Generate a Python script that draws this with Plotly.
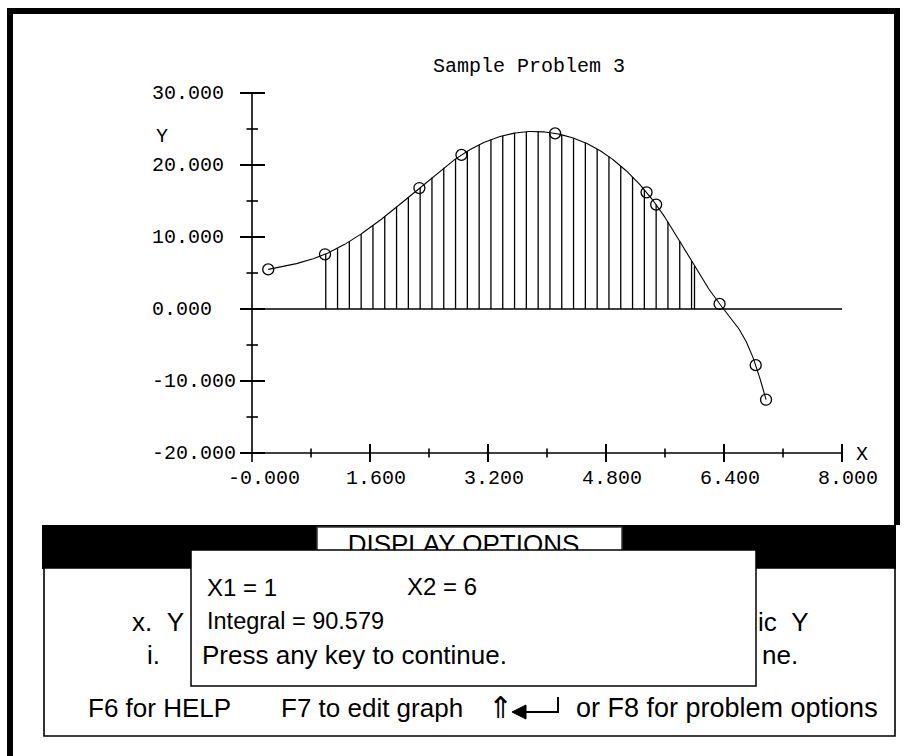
import numpy as np
import plotly.graph_objects as go

# ---------------- data ----------------
title = "Sample Problem 3"
x_pts = [0.22, 0.99, 2.27, 2.84, 4.11, 5.35, 5.48, 6.34, 6.83, 6.97]
y_pts = [5.5, 7.6, 16.8, 21.4, 24.4, 16.2, 14.5, 0.7, -7.8, -12.6]
X1, X2 = 1, 6
integral_value = 90.579
hatch_step = 0.16
x_ticks = [0.0, 1.6, 3.2, 4.8, 6.4, 8.0]
x_tick_labels = ["-0.000", "1.600", "3.200", "4.800", "6.400", "8.000"]
x_minor = [0.8, 2.4, 4.0, 5.6, 7.2]
y_ticks = [30, 20, 10, 0, -10, -20]
y_tick_labels = ["30.000", "20.000", "10.000", "0.000", "-10.000", "-20.000"]
y_minor = [25, 15, 5, -5, -15]

# ---------------- geometry (pixel mapping) ----------------
W, H = 905, 756
OX, OY = 252.0, 309.0      # pixel position of data (0,0)
SX, SY = 73.75, 7.2        # pixels per unit
xr = [-OX / SX, (W - OX) / SX]
yr = [(OY - H) / SY, OY / SY]

def dx(p):  # pixel length -> x units
    return p / SX

def dy(p):
    return p / SY

def PX(px):  # pixel -> paper
    return px / W

def PY(py):
    return 1 - py / H

def DX(px):  # pixel -> data x
    return (px - OX) / SX

def DY(py):
    return (OY - py) / SY


def natural_spline(xs, ys, xq):
    xs = np.asarray(xs, float)
    ys = np.asarray(ys, float)
    n = len(xs)
    h = np.diff(xs)
    A = np.zeros((n, n))
    b = np.zeros(n)
    A[0, 0] = 1
    A[-1, -1] = 1
    for i in range(1, n - 1):
        A[i, i - 1] = h[i - 1]
        A[i, i] = 2 * (h[i - 1] + h[i])
        A[i, i + 1] = h[i]
        b[i] = 6 * ((ys[i + 1] - ys[i]) / h[i] - (ys[i] - ys[i - 1]) / h[i - 1])
    M = np.linalg.solve(A, b)
    xq = np.asarray(xq, float)
    idx = np.clip(np.searchsorted(xs, xq) - 1, 0, n - 2)
    x0 = xs[idx]
    x1 = xs[idx + 1]
    hh = x1 - x0
    t0 = x1 - xq
    t1 = xq - x0
    return (M[idx] * t0 ** 3 / (6 * hh) + M[idx + 1] * t1 ** 3 / (6 * hh)
            + (ys[idx] / hh - M[idx] * hh / 6) * t0
            + (ys[idx + 1] / hh - M[idx + 1] * hh / 6) * t1)


fig = go.Figure()

# ---- axes lines & ticks ----
ymin, ymax = min(y_ticks), max(y_ticks)
xmax = max(x_ticks)
ax_x, ax_y = [], []
ax_x += [0, 0, None]
ax_y += [ymax, ymin - dy(9), None]
for yv in [ymin, 0]:
    ax_x += [-dx(12), xmax, None]
    ax_y += [yv, yv, None]
fig.add_trace(go.Scatter(x=ax_x, y=ax_y, mode="lines",
                         line=dict(color="black", width=1.6), hoverinfo="skip"))

maj_x, maj_y = [], []
for v in y_ticks:
    maj_x += [-dx(12), dx(13), None]
    maj_y += [v, v, None]
for v in x_ticks[1:]:
    maj_x += [v, v, None]
    maj_y += [ymin + dy(9), ymin - dy(9), None]
fig.add_trace(go.Scatter(x=maj_x, y=maj_y, mode="lines",
                         line=dict(color="black", width=2), hoverinfo="skip"))

min_x, min_y = [], []
for v in y_minor:
    min_x += [-dx(5.5), dx(6), None]
    min_y += [v, v, None]
for v in x_minor:
    min_x += [v, v, None]
    min_y += [ymin + dy(4.5), ymin - dy(4.5), None]
fig.add_trace(go.Scatter(x=min_x, y=min_y, mode="lines",
                         line=dict(color="black", width=1.6), hoverinfo="skip"))

# ---- hatch (integral region) ----
hx = np.append(np.arange(X1, X2 - 1e-9, hatch_step), X2)
hy = natural_spline(x_pts, y_pts, hx)
hat_x, hat_y = [], []
for a, b in zip(hx, hy):
    hat_x += [a, a, None]
    hat_y += [0, b, None]
fig.add_trace(go.Scatter(x=hat_x, y=hat_y, mode="lines",
                         line=dict(color="black", width=1.3), hoverinfo="skip"))

# ---- curve ----
cx = np.linspace(min(x_pts), max(x_pts), 600)
cy = natural_spline(x_pts, y_pts, cx)
fig.add_trace(go.Scatter(x=cx, y=cy, mode="lines",
                         line=dict(color="black", width=1.1), hoverinfo="skip"))

# ---- points ----
fig.add_trace(go.Scatter(x=x_pts, y=y_pts, mode="markers",
                         marker=dict(symbol="circle-open", size=11,
                                     color="black", line=dict(width=1.3))))

# ---- "DISPLAY OPTIONS" (trace text so popup can cover it) ----
fig.add_trace(go.Scatter(x=[DX(463.5)], y=[DY(546.5)], mode="text",
                         text=["DISPLAY OPTIONS"], textposition="middle center",
                         textfont=dict(family="Liberation Sans", size=26, color="black"),
                         hoverinfo="skip"))

mono = dict(family="Liberation Mono", size=20, color="black")
sans = "Liberation Sans"
ann = []
for v, t in zip(y_ticks, y_tick_labels):
    ann.append(dict(x=DX(150), y=v, xref="x", yref="y", text=t, showarrow=False,
                    xanchor="left", yanchor="middle", font=mono))
for v, t in zip(x_ticks, x_tick_labels):
    ann.append(dict(x=v - dx(26), y=DY(478), xref="x", yref="y", text=t, showarrow=False,
                    xanchor="left", yanchor="middle", font=mono))
ann.append(dict(x=DX(162), y=DY(136), xref="x", yref="y", text="Y", showarrow=False,
                xanchor="center", yanchor="middle", font=mono))
ann.append(dict(x=DX(862), y=DY(454), xref="x", yref="y", text="X", showarrow=False,
                xanchor="center", yanchor="middle", font=mono))
ann.append(dict(x=PX(431), y=PY(67), xref="paper", yref="paper", text=title, showarrow=False,
                xanchor="left", yanchor="middle", font=mono))


def txt(px, py, t, size=26, anchor="left"):
    ann.append(dict(x=PX(px), y=PY(py), xref="paper", yref="paper", text=t, showarrow=False,
                    xanchor=anchor, yanchor="middle",
                    font=dict(family=sans, size=size, color="black")))


txt(130, 622, "x.&nbsp;&nbsp;Y")
txt(145, 655, "i.")
txt(756, 622, "ic&nbsp;&nbsp;Y")
txt(760, 655, "ne.")
txt(205, 587, "X1 = %d" % X1, size=24)
txt(405, 586, "X2 = %d" % X2, size=24)
txt(205, 621, "Integral = %.3f" % integral_value, size=23.5)
txt(200, 655, "Press any key to continue.")
txt(86, 708, "F6 for HELP")
txt(279, 708, "F7 to edit graph")
txt(500, 707, "⇑", size=30, anchor="center")
txt(880, 708, "or F8 for problem options", size=27, anchor="right")

shapes = []
# outer frame (thick)
shapes.append(dict(type="line", xref="paper", yref="paper", x0=PX(10), x1=PX(10),
                   y0=PY(8), y1=PY(756), line=dict(color="black", width=6), layer="below"))
shapes.append(dict(type="line", xref="paper", yref="paper", x0=PX(7), x1=PX(900),
                   y0=PY(11), y1=PY(11), line=dict(color="black", width=6), layer="below"))
shapes.append(dict(type="line", xref="paper", yref="paper", x0=PX(897), x1=PX(897),
                   y0=PY(8), y1=PY(525), line=dict(color="black", width=6), layer="below"))
# panel
shapes.append(dict(type="rect", xref="paper", yref="paper", x0=PX(42), x1=PX(896),
                   y0=PY(525), y1=PY(569), fillcolor="black", line=dict(width=0), layer="below"))
shapes.append(dict(type="rect", xref="paper", yref="paper", x0=PX(44), x1=PX(895),
                   y0=PY(568), y1=PY(736), fillcolor="white",
                   line=dict(color="black", width=1.6), layer="below"))
shapes.append(dict(type="rect", xref="paper", yref="paper", x0=PX(317), x1=PX(622),
                   y0=PY(527), y1=PY(566), fillcolor="white",
                   line=dict(color="#333333", width=1.5), layer="below"))
# popup (above traces so it hides the title text)
shapes.append(dict(type="rect", xref="paper", yref="paper", x0=PX(191), x1=PX(756),
                   y0=PY(550), y1=PY(686), fillcolor="white",
                   line=dict(color="black", width=1.5), layer="above"))
# enter-key arrow glyph
shapes.append(dict(type="path", xref="paper", yref="paper",
                   path="M %f %f L %f %f L %f %f Z" % (PX(512), PY(712), PX(526), PY(705),
                                                       PX(526), PY(719)),
                   fillcolor="black", line=dict(color="black", width=1), layer="above"))
shapes.append(dict(type="path", xref="paper", yref="paper",
                   path="M %f %f L %f %f L %f %f" % (PX(525), PY(712), PX(558), PY(712),
                                                     PX(558), PY(697)),
                   line=dict(color="black", width=2), layer="above"))

fig.update_layout(
    width=W, height=H, margin=dict(l=0, r=0, t=0, b=0),
    paper_bgcolor="white", plot_bgcolor="rgba(0,0,0,0)",
    showlegend=False,
    xaxis=dict(range=xr, visible=False, fixedrange=True),
    yaxis=dict(range=yr, visible=False, fixedrange=True),
    annotations=ann, shapes=shapes,
)
fig.write_html("out.html")
